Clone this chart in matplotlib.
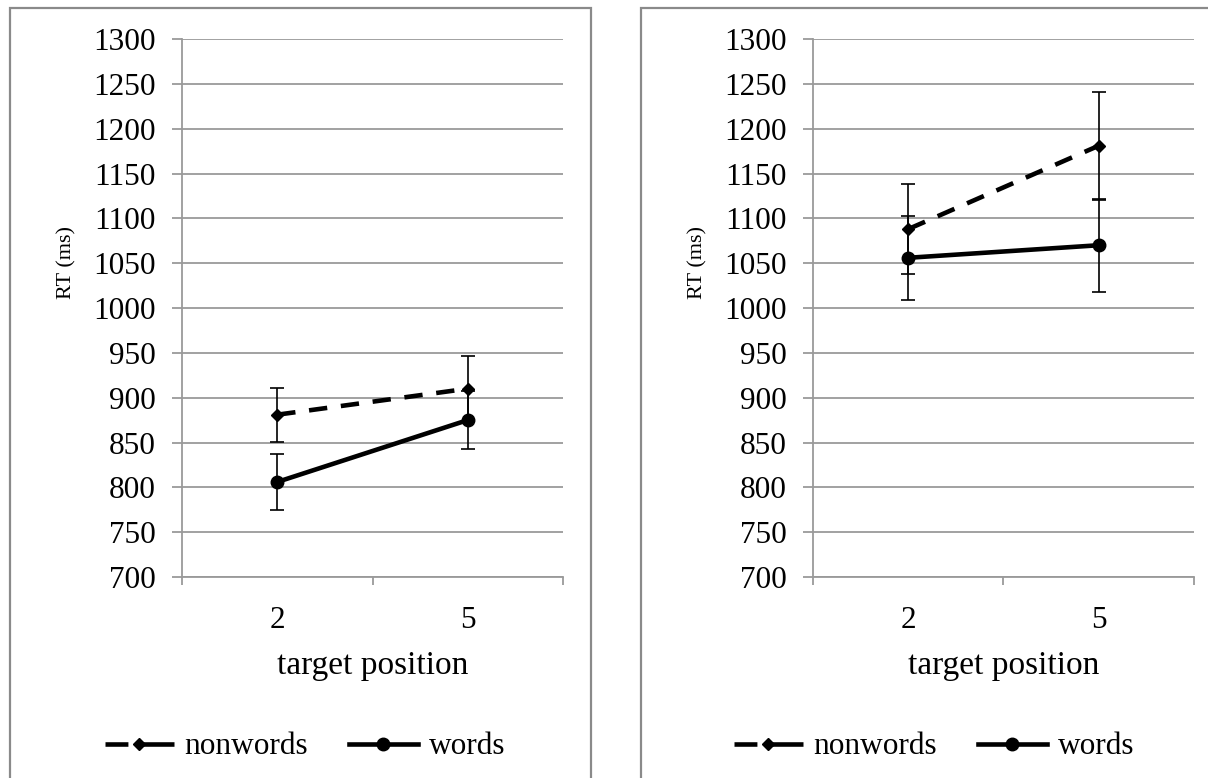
import matplotlib
matplotlib.use("Agg")
from matplotlib import pyplot as plt
from matplotlib.lines import Line2D
from matplotlib.patches import Rectangle
import numpy as np

# categories on the x axis
POSITIONS = ["2", "5"]

# left panel
LEFT_NONWORDS = [881, 910]
LEFT_NONWORDS_ERR = [30, 37]
LEFT_WORDS = [806, 875]
LEFT_WORDS_ERR = [31, 32]

# right panel
RIGHT_NONWORDS = [1088, 1181]
RIGHT_NONWORDS_ERR = [50, 60]
RIGHT_WORDS = [1056, 1070]
RIGHT_WORDS_ERR = [47, 52]

SERIES = ["nonwords", "words"]
Y_TICKS = list(range(700, 1301, 50))

GRAY = "#9a9a9a"
FONT = "Liberation Serif"
plt.rcParams["font.family"] = [FONT, "DejaVu Serif"]
LW = 3.3


def draw_panel(ax, nonwords, nonwords_err, words, words_err):
    x = np.arange(1, len(POSITIONS) + 1)
    ax.errorbar(x, nonwords, yerr=nonwords_err, color="black", lw=LW,
                ls=(0, (4, 3)), marker="D", markersize=6.5, ecolor="black",
                elinewidth=1.2, capsize=5, capthick=1.2, zorder=3)
    ax.errorbar(x, words, yerr=words_err, color="black", lw=LW, ls="-",
                marker="o", markersize=9, ecolor="black", elinewidth=1.2,
                capsize=5, capthick=1.2, zorder=4)

    ax.set_xlim(0.5, len(POSITIONS) + 0.5)
    ax.set_ylim(700, 1300)
    ax.set_yticks(Y_TICKS)
    ax.set_yticklabels([str(v) for v in Y_TICKS], fontsize=22.5)
    ax.set_xticks(x)
    ax.set_xticklabels(POSITIONS, fontsize=22.5)
    ax.set_xticks(np.arange(0.5, len(POSITIONS) + 1, 1), minor=True)
    ax.tick_params(axis="x", which="major", length=0, pad=21)
    ax.tick_params(axis="x", which="minor", length=6, width=1.3, color=GRAY)
    ax.tick_params(axis="y", length=7, width=1.3, color=GRAY, pad=12)

    ax.yaxis.grid(True, color=GRAY, lw=1.3)
    ax.set_axisbelow(True)
    for side in ["top", "right"]:
        ax.spines[side].set_visible(False)
    for side in ["left", "bottom"]:
        ax.spines[side].set_color(GRAY)
        ax.spines[side].set_linewidth(1.3)

    ax.set_xlabel("target position", fontsize=24, labelpad=11)
    ax.set_ylabel("RT (ms)", fontsize=16)
    ax.yaxis.set_label_coords(-0.278, 0.585)


fig = plt.figure(figsize=(12.08, 7.78), dpi=100)

# panel frames
fig.patches.append(Rectangle((10 / 1208, -0.05), 581 / 1208, 1.05 - 8 / 778,
                             transform=fig.transFigure, fill=False,
                             edgecolor="#8a8a8a", lw=1.6))
fig.patches.append(Rectangle((641 / 1208, -0.05), 600 / 1208, 1.05 - 8 / 778,
                             transform=fig.transFigure, fill=False,
                             edgecolor="#8a8a8a", lw=1.6))

ax1 = fig.add_axes([182 / 1208, 201 / 778, 381 / 1208, 538 / 778])
ax2 = fig.add_axes([813 / 1208, 201 / 778, 381 / 1208, 538 / 778])

draw_panel(ax1, LEFT_NONWORDS, LEFT_NONWORDS_ERR, LEFT_WORDS, LEFT_WORDS_ERR)
draw_panel(ax2, RIGHT_NONWORDS, RIGHT_NONWORDS_ERR, RIGHT_WORDS, RIGHT_WORDS_ERR)

# legend proxies: dash - diamond - dash, and solid with dot
leg_handles = [
    Line2D([], [], color="black", lw=LW, ls=(0, (5, 2.4, 8, 10)),
           marker="D", markersize=6.5),
    Line2D([], [], color="black", lw=LW, ls="-", marker="o", markersize=9),
]

for cx in [305 / 1208, 934 / 1208]:
    fig.legend(leg_handles, SERIES, loc="center", bbox_to_anchor=(cx, 31 / 778),
               ncol=2, frameon=False, fontsize=22.5, handlelength=2.2,
               handletextpad=0.35, columnspacing=1.3)

fig.savefig("out.png", dpi=100)
